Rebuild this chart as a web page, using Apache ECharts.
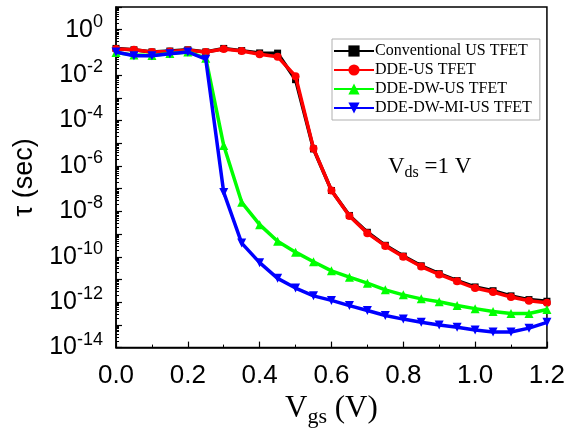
<!DOCTYPE html>
<html>
<head>
<meta charset="utf-8">
<script src="https://cdn.jsdelivr.net/npm/echarts@6/dist/echarts.min.js"></script>
<style>
  html, body { margin: 0; padding: 0; background: #fff; }
  #chart { width: 568px; height: 433px; }
</style>
</head>
<body>
<div id="chart"></div>
<script>
// gate voltage (V)
const vgs = [0, 0.05, 0.1, 0.15, 0.2, 0.25, 0.3, 0.35, 0.4, 0.45, 0.5, 0.55, 0.6,
  0.65, 0.7, 0.75, 0.8, 0.85, 0.9, 0.95, 1.0, 1.05, 1.1, 1.15, 1.2];

// tau (sec)
const conventional = [1.5e-1, 1.3e-1, 1.05e-1, 1.15e-1, 1.3e-1, 1.05e-1, 1.5e-1, 1.2e-1, 9.5e-2, 9.3e-2,
  6.3e-3, 5.6e-6, 8.3e-8, 6.6e-9, 1.2e-9, 3.2e-10, 1.07e-10, 4.0e-11, 1.8e-11, 8.9e-12,
  4.7e-12, 3.2e-12, 1.9e-12, 1.3e-12, 1.1e-12];
const ddeUs = [1.4e-1, 1.3e-1, 1.05e-1, 1.1e-1, 1.25e-1, 1.05e-1, 1.4e-1, 1.15e-1, 8.3e-2, 6.5e-2,
  8.9e-3, 5.9e-6, 8.3e-8, 6.3e-9, 1.1e-9, 3.0e-10, 1.0e-10, 3.7e-11, 1.66e-11, 8.3e-12,
  4.2e-12, 2.8e-12, 1.7e-12, 1.15e-12, 9.5e-13];
const ddeDwUs = [1.0e-1, 7.6e-2, 7.4e-2, 8.9e-2, 1.05e-1, 5.6e-2, 7.9e-6, 2.5e-8, 2.6e-9, 4.8e-10,
  1.6e-10, 6.0e-11, 2.4e-11, 1.26e-11, 6.9e-12, 3.5e-12, 2.1e-12, 1.4e-12, 1.05e-12, 7.1e-13,
  5.2e-13, 3.9e-13, 3.2e-13, 3.2e-13, 4.8e-13];
const ddeDwMiUs = [1.05e-1, 7.1e-2, 7.1e-2, 8.7e-2, 1.05e-1, 5.0e-2, 6.8e-8, 4.0e-10, 5.5e-11, 1.12e-11,
  4.2e-12, 1.9e-12, 1.2e-12, 7.1e-13, 4.3e-13, 2.6e-13, 1.8e-13, 1.3e-13, 9.8e-14, 7.9e-14,
  5.9e-14, 4.9e-14, 4.9e-14, 7.2e-14, 1.3e-13];

const seriesNames = ['Conventional US TFET', 'DDE-US TFET', 'DDE-DW-US TFET', 'DDE-DW-MI-US TFET'];
const seriesData = [conventional, ddeUs, ddeDwUs, ddeDwMiUs];
const colors = ['#000000', '#ff0000', '#00ff00', '#0000ff'];
const symbols = ['rect', 'circle', 'triangle', 'path://M0,0 L10,0 L5,9 Z'];
const symbolSizes = [7, 8, 9, 9];

let chart = echarts.init(document.getElementById('chart'));

chart.setOption({
  animation: false,
  color: colors,
  grid: {
    left: 116, right: 21, top: 7, bottom: 77,
    show: true, borderColor: '#000', borderWidth: 1.5
  },
  legend: {
    orient: 'vertical',
    left: 332, top: 39,
    padding: [4, 8, 4, 1],
    itemWidth: 40, itemHeight: 14, itemGap: 3,
    borderColor: '#b0b0b0', borderWidth: 1,
    backgroundColor: '#fff',
    textStyle: { fontFamily: 'Liberation Serif', fontSize: 16, color: '#000', lineHeight: 16, padding: [0, 0, 0, -4] },
    data: seriesNames
  },
  xAxis: {
    type: 'value',
    min: 0, max: 1.2, interval: 0.2,
    name: '{v|V}{s|gs}{v| (V)}',
    nameLocation: 'middle',
    nameGap: 35,
    nameTextStyle: {
      rich: {
        v: { fontFamily: 'Liberation Serif', fontSize: 31, color: '#000' },
        s: { fontFamily: 'Liberation Serif', fontSize: 22, color: '#000', padding: [16, 0, 0, 0] }
      }
    },
    axisLine: { lineStyle: { color: '#000', width: 1.5 } },
    axisTick: { inside: true, length: 6, lineStyle: { color: '#000', width: 1.2 } },
    minorTick: { show: true, splitNumber: 2, length: 3, lineStyle: { color: '#000', width: 1 } },
    splitLine: { show: false },
    axisLabel: {
      margin: 15,
      fontFamily: 'Liberation Sans', fontSize: 26, color: '#000',
      formatter: (v) => v.toFixed(1)
    }
  },
  yAxis: {
    type: 'log',
    logBase: 10,
    min: 1e-14, max: 10,
    interval: 1,
    name: 'τ (sec)',
    nameLocation: 'middle',
    nameGap: 54,
    nameTextStyle: { fontFamily: 'Liberation Sans', fontSize: 27, color: '#000' },
    axisLine: { lineStyle: { color: '#000', width: 1.5 } },
    axisTick: { inside: true, length: 6, lineStyle: { color: '#000', width: 1.2 } },
    minorTick: { show: true, splitNumber: 9, length: 3, lineStyle: { color: '#000', width: 1 } },
    splitLine: { show: false },
    axisLabel: {
      margin: 13,
      formatter: (v) => {
        const e = Math.round(Math.log10(v));
        if (e % 2 !== 0 || e > 0) return '';
        return '{b|10}{s|' + e + '}';
      },
      rich: {
        b: { fontFamily: 'Liberation Sans', fontSize: 25, color: '#000' },
        s: { fontFamily: 'Liberation Sans', fontSize: 18, color: '#000', padding: [0, 0, 16, 0] }
      }
    }
  },
  graphic: [
    {
      type: 'text',
      left: 388, top: 155,
      style: {
        text: '{v|V}{s|ds}{v| =1 V}',
        rich: {
          v: { fontFamily: 'Liberation Serif', fontSize: 23, fill: '#000' },
          s: { fontFamily: 'Liberation Serif', fontSize: 16, fill: '#000', padding: [12, 0, 0, 0] }
        }
      }
    }
  ],
  series: seriesNames.map((name, i) => ({
    name: name,
    type: 'line',
    data: vgs.map((x, j) => [x, seriesData[i][j]]),
    symbol: symbols[i],
    symbolSize: symbolSizes[i],
    showAllSymbol: true,
    lineStyle: { width: 3.5, color: colors[i] },
    itemStyle: { color: colors[i] },
    z: 2 + i
  }))
});
</script>
</body>
</html>
